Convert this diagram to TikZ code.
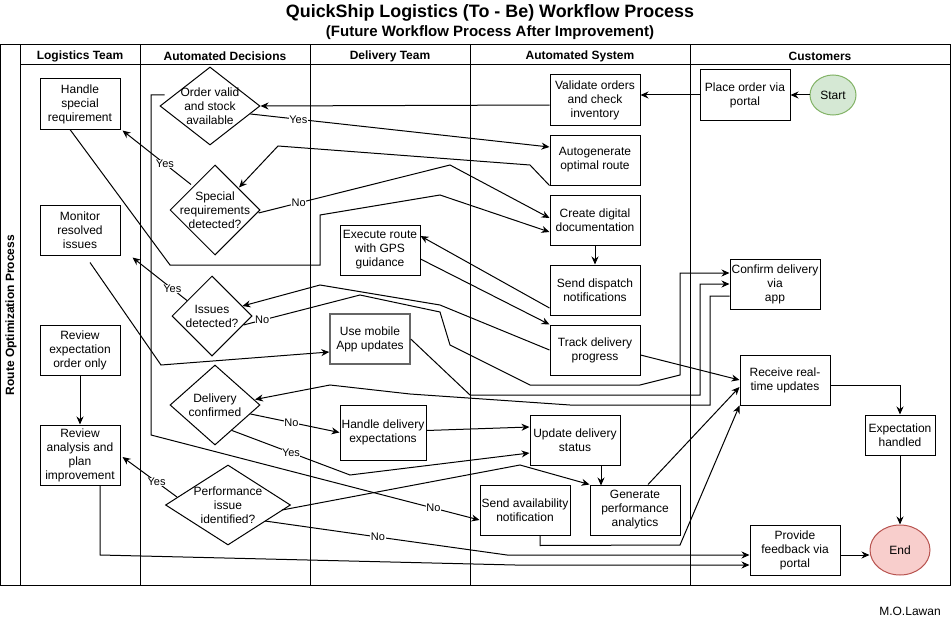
\documentclass[tikz,border=0pt]{standalone}
\usepackage{fontspec}
\setmainfont{Liberation Sans}
\usetikzlibrary{shapes.geometric,arrows.meta,calc}
\definecolor{startfill}{HTML}{D5E8D4}
\definecolor{startline}{HTML}{82B366}
\definecolor{endfill}{HTML}{F8CECC}
\definecolor{endline}{HTML}{B85450}
\begin{document}
\begin{tikzpicture}[x=1pt,y=-1pt,line width=1pt,
  txt/.style={font=\fontsize{12}{14}\selectfont,align=center},
  box/.style={draw,rectangle,txt,inner sep=1pt,minimum width=90,minimum height=50},
  dia/.style={draw,diamond,inner sep=0pt},
  dtxt/.style={txt,inner sep=0pt},
  hdr/.style={font=\bfseries\fontsize{12}{14}\selectfont},
  arr/.style={-{Stealth[length=8pt,width=7pt]}},
  lbl/.style={fill=white,inner sep=0.5pt,font=\fontsize{11}{13}\selectfont}]
\useasboundingbox (0,0) rectangle (951,626);

% title
\node[font=\bfseries\fontsize{17.9}{20}\selectfont] (title) at (490,13) {QuickShip Logistics (To - Be) Workflow Process};
\node[font=\bfseries\fontsize{15}{18}\selectfont] (subtitle) at (490,33) {(Future Workflow Process After Improvement)};
\node[txt] (author) at (910,611) {M.O.Lawan};

% pool and lanes
\draw (0,45) rectangle (950,585);
\draw (20,45) -- (20,585);
\draw (140,45) -- (140,585);
\draw (310,45) -- (310,585);
\draw (470,45) -- (470,585);
\draw (690,45) -- (690,585);
\draw (20,65) -- (950,65);
\node[hdr,rotate=90] (pool) at (11,315) {Route Optimization Process};
\node[hdr] (l1) at (80,56) {Logistics Team};
\node[hdr] (l2) at (225,56) {Automated Decisions};
\node[hdr] (l3) at (390,56) {Delivery Team};
\node[hdr] (l4) at (580,56) {Automated System};
\node[hdr] (l5) at (820,56) {Customers};

% Logistics team
\node[box,minimum width=80] (hsr) at (80,104) {Handle\\special\\requirement};
\node[box,minimum width=80] (mri) at (80,230) {Monitor\\resolved\\issues};
\node[box,minimum width=80] (reo) at (80,350) {Review\\expectation\\order only};
\node[box,minimum width=80,minimum height=60] (rap) at (80,455) {Review\\analysis and\\plan\\improvement};

% Automated decisions
\node[dia,minimum width=100,minimum height=78] (ov) at (210,106) {};
\node[dtxt] (ovt) at (ov.center) {Order valid\\and stock\\available};
\node[dia,minimum width=90,minimum height=90] (srd) at (215,210) {};
\node[dtxt] (srdt) at (srd.center) {Special\\requirements\\detected?};
\node[dia,minimum width=80,minimum height=80] (isd) at (212,316) {};
\node[dtxt] (isdt) at (isd.center) {Issues\\detected?};
\node[dia,minimum width=90,minimum height=80] (dc) at (215,405) {};
\node[dtxt] (dct) at (dc.center) {Delivery\\confirmed};
\node[dia,minimum width=125,minimum height=80] (pi) at (228,505) {};
\node[dtxt] (pit) at (pi.center) {Performance\\issue\\identified?};

% Delivery team
\node[box,minimum width=80] (er) at (380,250) {Execute route\\with GPS\\guidance};
\node[box,minimum width=80,draw=black!60,line width=1.5pt] (uma) at (370,339) {Use mobile\\App updates};
\node[box,minimum width=86,minimum height=55] (hde) at (383,432.5) {Handle delivery\\expectations};

% Automated system
\node[box] (vo) at (595,100) {Validate orders\\and check\\inventory};
\node[box] (ag) at (595,160) {Autogenerate\\optimal route};
\node[box] (cdd) at (595,220) {Create digital\\documentation};
\node[box] (sdn) at (595,290) {Send dispatch\\notifications};
\node[box] (tdp) at (595,350) {Track delivery\\progress};
\node[box] (uds) at (575,440) {Update delivery\\status};
\node[box] (gpa) at (635,510) {Generate\\performance\\analytics};
\node[box] (san) at (525,510) {Send availability\\notification};

% Customers
\node[draw=startline,fill=startfill,ellipse,txt,inner sep=0pt,minimum width=46,minimum height=40] (start) at (833,95) {Start};
\node[box] (po) at (745,95) {Place order via\\portal};
\node[box] (cd) at (775,284) {Confirm delivery\\via\\app};
\node[box] (rru) at (785,380) {Receive real-\\time updates};
\node[box,minimum width=70,minimum height=40] (eh) at (900,435) {Expectation\\handled};
\node[box] (pf) at (795,550) {Provide\\feedback via\\portal};
\node[draw=endline,fill=endfill,ellipse,txt,inner sep=0pt,minimum width=60,minimum height=50] (endn) at (900,550) {End};

% connectors
\draw[arr] (start.west) -- (po.east);
\draw[arr] (po.west) -- (po.west -| vo.east);
\draw[arr] ($(vo.west)+(0,5)$) -- (ov.east);
\draw[arr] ($(ov.east)+(-10,8)$) -- node[lbl,pos=0.16]{Yes} ($(ag.west)+(0,-13)$);
\draw[arr] (ag.south west) -- (530,165) -- (278,146) -- ($(srd.north)+(24,23)$);
\draw[arr] ($(srd.north)+(-24,20)$) -- node[lbl,pos=0.38]{Yes} ($(hsr.south east)+(2,1)$);
\draw[arr] ($(srd.east)+(-2,3)$) -- node[lbl,pos=0.21]{No} (450,165) -- ($(cdd.west)+(0,-2)$);
\draw[arr] ($(hsr.south)+(-10,0)$) -- (170,265) -- (320,265) -- (320,215) -- (440,195) -- ($(cdd.west)+(0,12)$);
\draw[arr] ($(ov.west)+(5,-11)$) -- (151,95) -- (151,435) -- node[lbl,pos=0.86]{No} ($(san.west)+(0,10)$);
\draw[arr] (cdd.south) -- (sdn.north);
\draw[arr] ($(sdn.west)+(0,18)$) -- ($(er.east)+(0,-14)$);
\draw[arr] ($(er.east)+(0,9)$) -- (tdp.north west);
\draw[arr] (tdp.west) -- (440,305) -- (320,285) -- ($(isd.east)+(-10,-10)$);
\draw[arr] ($(isd.east)+(-9,9)$) -- node[lbl,pos=0.16]{No} (360,295) -- (440,312) -- (450,345) -- (530,385) -- (640,385) -- (680,375) -- (680,273) -- ($(cd.west)+(0,-11)$);
\draw[arr] ($(isd.north)+(-25,25)$) -- node[lbl,pos=0.27]{Yes} ($(mri.south east)+(12,2)$);
\draw[arr] ($(mri.south)+(10,7)$) -- (161,365) -- ($(uma.west)+(0,13)$);
\draw[arr] (uma.east) -- (470,395) -- (700,395) |- (cd.west);
\draw[arr] ($(cd.west)+(0,12)$) -- (710,296) -- (710,405) -- (570,405) -- (410,394) -- (330,385) -- ($(dc.north)+(40,35)$);
\draw[arr] ($(dc.east)+(-10,9)$) -- node[lbl,pos=0.46]{No} (hde.west);
\draw[arr] ($(dc.south)+(17,-15)$) -- node[lbl,pos=0.5]{Yes} (350,475) -- ($(uds.west)+(0,13)$);
\draw[arr] ($(hde.east)+(0,-2)$) -- ($(uds.west)+(0,-13)$);
\draw[arr] ($(uds.south)+(26,0)$) -- ($(uds.south)+(26,20)$);
\draw[arr] ($(tdp.east)+(0,5)$) -- (rru.west);
\draw[arr] ($(gpa.north)+(13,0)$) -- ($(rru.west)+(0,7)$);
\draw[arr] ($(san.south)+(15,0)$) -- ++(0,10) -- (680,545) -- (rru.south west);
\draw[arr] ($(rru.east)+(0,5)$) -| (eh.north);
\draw[arr] (eh.south) -- (endn.north);
\draw[arr] ($(pf.east)+(0,5)$) -- ($(endn.west)+(0,5)$);
\draw[arr] ($(pi.east)+(-26,16)$) -- (378,537) node[lbl]{No} -- (507,555) -- ($(pf.west)+(0,5)$);
\draw[arr] ($(pi.east)+(-9,5)$) -- (520,465) -- (gpa.north west);
\draw[arr] ($(pi.west)+(12,-8)$) -- node[lbl,pos=0.375]{Yes} ($(rap.east)+(2,2)$);
\draw[arr] ($(rap.south)+(20,0)$) -- (100,555) -- (515,565) -- ($(pf.west)+(0,15)$);
\draw[arr] (reo.south) -- (rap.north);
\end{tikzpicture}
\end{document}
